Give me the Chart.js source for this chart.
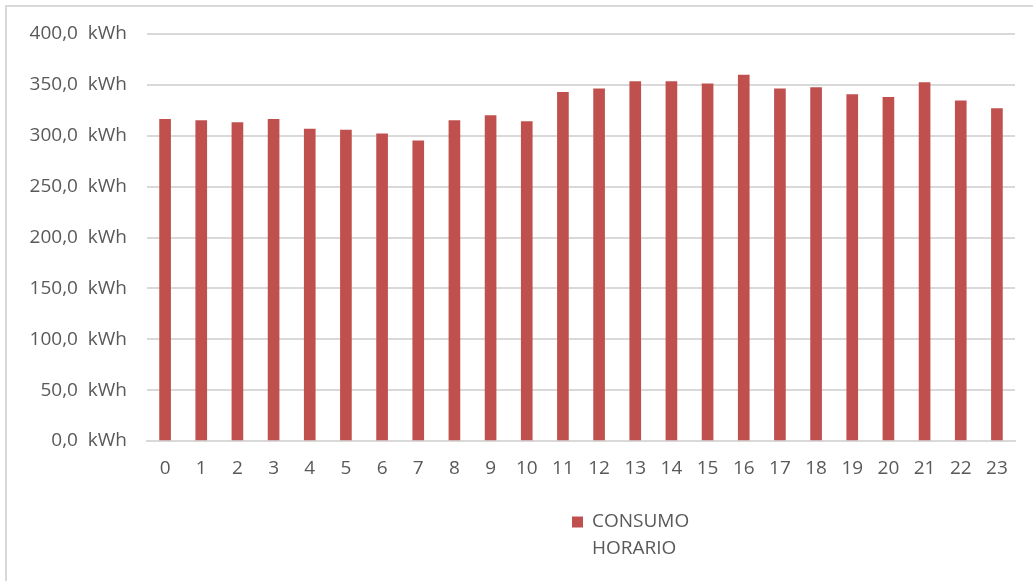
<!DOCTYPE html>
<html>
<head>
<meta charset="utf-8">
<script src="https://cdn.jsdelivr.net/npm/chart.js@4/dist/chart.umd.min.js"></script>
<style>
  html, body { margin: 0; padding: 0; background: #ffffff; }
  #wrap { position: relative; width: 1033px; height: 581px; }
  canvas { display: block; }
</style>
</head>
<body>
<div id="wrap"><canvas id="c" width="1033" height="581"></canvas></div>
<script>
// Hourly consumption (kWh) for each hour of the day
const hours = ['0','1','2','3','4','5','6','7','8','9','10','11','12','13','14','15','16','17','18','19','20','21','22','23'];
const consumo = [316.2, 314.9, 312.9, 316.2, 306.6, 305.6, 302.0, 295.0, 314.9, 319.9, 313.9, 342.7,
                 346.0, 353.3, 353.3, 351.0, 359.6, 346.0, 347.3, 340.4, 337.8, 352.3, 334.4, 326.8];
const seriesName = ['CONSUMO', 'HORARIO'];
const yTicks = [0, 50, 100, 150, 200, 250, 300, 350, 400];

const textColor = '#595959';
const gridColor = '#d9d9d9';
const barColor = '#c0504d';
const fontFamily = "'Open Sans', 'Liberation Sans', sans-serif";

// Thin frame along the top and left edges of the canvas
const framePlugin = {
  id: 'frame',
  beforeDraw(chart) {
    const ctx = chart.ctx;
    ctx.save();
    ctx.fillStyle = '#ffffff';
    ctx.fillRect(0, 0, chart.width, chart.height);
    ctx.strokeStyle = '#d9d9d9';
    ctx.lineWidth = 2;
    ctx.beginPath();
    ctx.moveTo(6, chart.height);
    ctx.lineTo(6, 6);
    ctx.lineTo(chart.width, 6);
    ctx.stroke();
    ctx.restore();
  }
};

// Two-line legend centred under the plot
const legendPlugin = {
  id: 'twoLineLegend',
  afterDraw(chart) {
    const ctx = chart.ctx;
    const ds = chart.data.datasets[0];
    const lines = ds.label;
    ctx.save();
    ctx.font = '19px ' + fontFamily;
    ctx.textBaseline = 'middle';
    ctx.textAlign = 'left';
    const box = 11;
    const textX = 592;
    const y0 = 522;
    const lh = 27;
    ctx.fillStyle = ds.backgroundColor;
    ctx.fillRect(textX - 20, y0 - box / 2, box, box);
    ctx.fillStyle = textColor;
    lines.forEach((t, i) => ctx.fillText(t, textX, y0 + i * lh));
    ctx.restore();
  }
};

new Chart(document.getElementById('c'), {
  type: 'bar',
  data: {
    labels: hours,
    datasets: [{
      label: seriesName,
      data: consumo,
      backgroundColor: barColor,
      borderWidth: 0,
      barThickness: 11
    }]
  },
  options: {
    responsive: false,
    animation: false,
    devicePixelRatio: 1,
    layout: { padding: { top: 34, right: 18, left: 0, bottom: 0 } },
    plugins: {
      legend: { display: false },
      tooltip: { enabled: false }
    },
    scales: {
      x: {
        grid: { display: false, drawTicks: false },
        border: { display: true, color: gridColor, width: 2 },
        ticks: {
          color: textColor,
          font: { family: fontFamily, size: 19 },
          padding: 16,
          maxRotation: 0,
          autoSkip: false
        },
        afterFit(scale) { scale.height = 140; }
      },
      y: {
        min: 0,
        max: 400,
        afterBuildTicks(scale) { scale.ticks = yTicks.map(v => ({ value: v })); },
        grid: { color: gridColor, lineWidth: 2, drawTicks: false },
        border: { display: false },
        ticks: {
          color: textColor,
          font: { family: fontFamily, size: 19 },
          padding: 20,
          callback: v => v.toFixed(1).replace('.', ',') + '  kWh'
        },
        afterFit(scale) { scale.width = 147; }
      }
    }
  },
  plugins: [framePlugin, legendPlugin]
});
</script>
</body>
</html>
